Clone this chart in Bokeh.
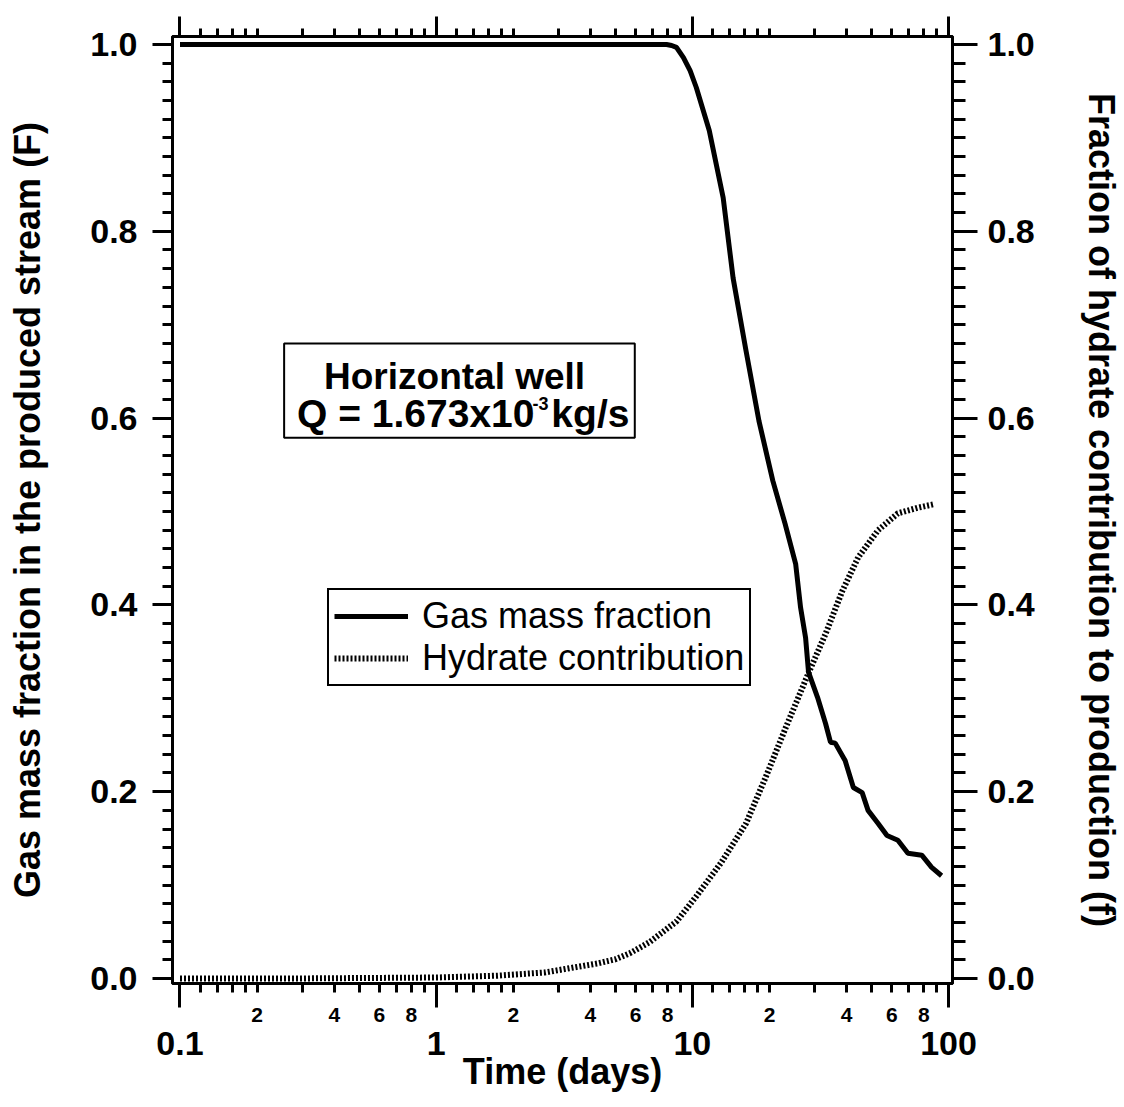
from bokeh.plotting import figure
from bokeh.models import (Range1d, LinearAxis, LogAxis, FixedTicker, SingleIntervalTicker,
                          PrintfTickFormatter, Label, BoxAnnotation, Legend, LegendItem)
from bokeh.embed import file_html
from bokeh.resources import INLINE

# ---------------- data ----------------
gas_t = [0.1, 1.0, 5.0, 7.93, 8.3, 8.67, 9.23, 9.8, 10.36, 11.64, 13.19, 14.42, 16.2, 18.19,
         20.6, 23.0, 25.3, 26.45, 27.66, 28.4, 30.8, 33.1, 34.6, 36.1, 39.5, 42.5, 46.0,
         48.5, 53.1, 57.5, 63.4, 69.4, 78.6, 85.9, 93.9]
gas_F = [1.0, 1.0, 1.0, 1.0, 0.999, 0.997, 0.986, 0.972, 0.954, 0.908, 0.836, 0.750, 0.672,
         0.597, 0.533, 0.487, 0.444, 0.397, 0.365, 0.328, 0.301, 0.273, 0.253, 0.252, 0.233,
         0.2045, 0.199, 0.180, 0.166, 0.153, 0.148, 0.134, 0.132, 0.119, 0.110]

hyd_t = [0.1, 0.292, 1.0, 1.74, 2.65, 4.25, 5.0, 5.7, 6.81, 8.67, 10.36, 12.95, 16.2, 19.36,
         23.1, 28.4, 33.1, 38.5, 44.4, 53.1, 63.4, 75.8, 88.3]
hyd_f = [0.0, 0.0, 0.001, 0.003, 0.0064, 0.016, 0.0205, 0.027, 0.039, 0.061, 0.088, 0.124,
         0.166, 0.216, 0.268, 0.327, 0.369, 0.415, 0.451, 0.480, 0.498, 0.504, 0.508]

decade_ticks = [0.1, 1, 10, 100]
decade_labels = ["0.1", "1", "10", "100"]
labeled_mult = [2, 4, 6, 8]
labeled_text = ["2", "4", "6", "8"]
unlabeled_mult = [1.2, 1.4, 1.6, 1.8, 3, 5, 7, 9]

series_names = ["Gas mass fraction", "Hydrate contribution"]
left_title = "Gas mass fraction in the produced stream (F)"
right_title = "Fraction of hydrate contribution to production (f)"
x_title = "Time (days)"
box_line1 = "Horizontal well"
box_line2 = "Q = 1.673x10"
box_sup = "-3"
box_unit = "kg/s"

FONT = "Liberation Sans"

labeled_ticks = [d * m for d in decade_ticks[:-1] for m in labeled_mult]
labeled_names = [s for d in decade_ticks[:-1] for s in labeled_text]
unlabeled_ticks = [d * m for d in decade_ticks[:-1] for m in unlabeled_mult]
all_minor = sorted(labeled_ticks + unlabeled_ticks)

p = figure(width=1124, height=1107, x_axis_type="log",
           x_range=Range1d(0.0935, 103.6), y_range=Range1d(-0.0054, 1.0086),
           output_backend="svg", toolbar_location=None,
           min_border_left=172, min_border_right=166, min_border_top=36, min_border_bottom=124)
p.grid.visible = False
p.outline_line_color = "black"
p.outline_line_width = 3
p.background_fill_color = "white"
p.border_fill_color = "white"


def style_axis(ax, major_out, minor_out, label_size="34px"):
    ax.axis_line_color = "black"
    ax.axis_line_width = 3
    ax.major_tick_line_color = "black"
    ax.minor_tick_line_color = "black"
    ax.major_tick_line_width = 3
    ax.minor_tick_line_width = 3
    ax.major_tick_in = 0
    ax.minor_tick_in = 0
    ax.major_tick_out = major_out
    ax.minor_tick_out = minor_out
    ax.major_label_text_font = FONT
    ax.major_label_text_font_style = "bold"
    ax.major_label_text_font_size = label_size
    ax.major_label_text_color = "black"
    ax.axis_label_text_font = FONT
    ax.axis_label_text_font_style = "bold"
    ax.axis_label_text_font_size = "36px"
    ax.axis_label_text_color = "black"


# bottom axis A (at the frame): long decade ticks, short ticks elsewhere, no labels
xa = p.xaxis[0]
xa.ticker = FixedTicker(ticks=decade_ticks, minor_ticks=all_minor)
style_axis(xa, 24, 9, label_size="0px")
xa.major_label_overrides = {v: "" for v in decade_ticks}
xa.major_label_standoff = 0

# bottom axis B: small labels 2 4 6 8
xb = LogAxis(ticker=FixedTicker(ticks=labeled_ticks, minor_ticks=[]))
style_axis(xb, 0, 0, label_size="21px")
xb.axis_line_color = None
xb.major_tick_line_color = None
xb.minor_tick_line_color = None
xb.major_label_overrides = {v: s for v, s in zip(labeled_ticks, labeled_names)}
xb.major_label_standoff = 0
p.add_layout(xb, "below")

# bottom axis C: decade labels and the title
xc = LogAxis(ticker=FixedTicker(ticks=decade_ticks, minor_ticks=[]))
style_axis(xc, 0, 0)
xc.axis_line_color = None
xc.major_tick_line_color = None
xc.minor_tick_line_color = None
xc.major_label_overrides = {v: s for v, s in zip(decade_ticks, decade_labels)}
xc.major_label_standoff = 7
xc.axis_label = x_title
xc.axis_label_standoff = -7
p.add_layout(xc, "below")

# top axis
ta = LogAxis(ticker=FixedTicker(ticks=decade_ticks, minor_ticks=all_minor))
style_axis(ta, 20, 8, label_size="0px")
ta.major_label_standoff = 0
ta.major_label_overrides = {v: "" for v in decade_ticks}
p.add_layout(ta, "above")

# left axis
ya = p.yaxis[0]
ya.ticker = SingleIntervalTicker(interval=0.2, num_minor_ticks=10)
ya.formatter = PrintfTickFormatter(format="%.1f")
style_axis(ya, 20, 10)
ya.major_label_standoff = 15
ya.axis_label = left_title
ya.axis_label_standoff = 39

# right axis
ra = LinearAxis(ticker=SingleIntervalTicker(interval=0.2, num_minor_ticks=10),
                formatter=PrintfTickFormatter(format="%.1f"))
style_axis(ra, 25, 13)
ra.major_label_standoff = 10
ra.axis_label = right_title
ra.axis_label_standoff = 43
p.add_layout(ra, "right")

# curves
r1 = p.line(gas_t, gas_F, line_color="black", line_width=5)
r2 = p.line(hyd_t, hyd_f, line_color="black", line_width=6, line_dash="2 2")

legend = Legend(items=[LegendItem(label=series_names[0], renderers=[r1]),
                       LegendItem(label=series_names[1], renderers=[r2])],
                location=(155, 297), orientation="vertical")
legend.border_line_color = "black"
legend.border_line_alpha = 1.0
legend.border_line_width = 2
legend.background_fill_alpha = 1.0
legend.padding = 5
legend.margin = 0
legend.spacing = 0
legend.glyph_width = 74
legend.glyph_height = 34
legend.label_height = 34
legend.label_standoff = 14
legend.label_text_font = FONT
legend.label_text_font_size = "36px"
legend.label_text_color = "black"
legend.label_text_line_height = 1.0
p.add_layout(legend, "center")

# annotation box
p.add_layout(BoxAnnotation(left=0.255, right=5.96, bottom=0.579, top=0.68,
                           fill_color=None, line_color="black", line_alpha=1.0, line_width=2))


def add_text(x, y, text, size, align):
    p.add_layout(Label(x=x, y=y, text=text, text_align=align, text_baseline="middle",
                       text_font=FONT, text_font_style="bold", text_font_size=size,
                       text_color="black"))


add_text(0.365, 0.6445, box_line1, "37px", "left")
add_text(2.419, 0.605, box_line2, "39px", "right")
add_text(2.742, 0.6156, box_sup, "18px", "right")
add_text(2.816, 0.605, box_unit, "39px", "left")

open("out.html", "w").write(file_html(p, INLINE))
